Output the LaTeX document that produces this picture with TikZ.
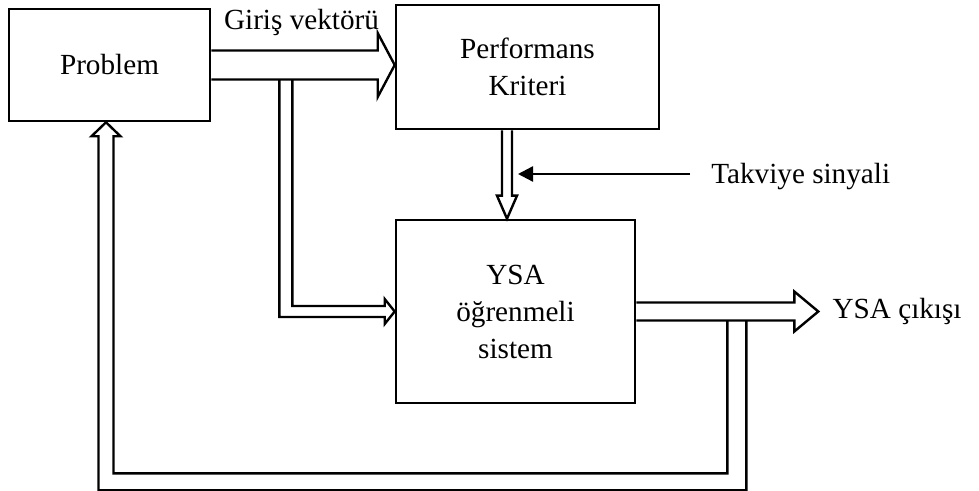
\documentclass[tikz,border=0pt]{standalone}
\usepackage{fontspec}
\setmainfont{Liberation Serif}
\usepackage{tikz}
\usetikzlibrary{arrows.meta,calc}
\tikzset{every picture/.style={line width=1.3pt}}

\begin{document}
\begin{tikzpicture}[x=.5pt,y=-.5pt,
  every node/.style={font=\fontsize{14.6}{18.5}\selectfont},
  block/.style={draw=black,line width=1.3pt,align=center,inner sep=0pt},
  hollow/.style={draw=black,line width=1.2pt,line join=miter},
  signal/.style={draw=black,line width=1.2pt,-{Triangle[length=7.5pt,width=7.5pt]}}]
  \useasboundingbox (0,0) rectangle (979,491);

  % Blocks of the learning loop.
  \node[block,minimum width=100.5pt,minimum height=56pt] (prob) at (109.5,65)
    {Problem};
  \node[block,minimum width=131.5pt,minimum height=62pt] (perf) at (527.5,67)
    {Performans\\Kriteri};
  \node[block,minimum width=119.5pt,minimum height=91.5pt] (ysa) at (515.5,311.5)
    {YSA\\öğrenmeli\\sistem};

  % Labels.
  \node (giris) at (301.5,22) {Giriş vektörü};
  \node[anchor=west,inner sep=0pt] (takviye) at (710,177) {Takviye sinyali};
  \node[anchor=west,inner xsep=6.5pt,inner ysep=0pt] (cikis)
    at ($(ysa.east)+(182,0)$) {YSA çıkışı};

  % Input vector into the performance criterion.
  \coordinate (gtip) at (perf.west |- prob.east);
  \draw[hollow] ($(prob.east)+(0,-14.5)$) -- ($(gtip)+(-17,-14.5)$)
    -- ($(gtip)+(-17,-32)$) -- (gtip) -- ($(gtip)+(-17,32)$)
    -- ($(gtip)+(-17,14.5)$) -- ($(prob.east)+(0,14.5)$);

  % Branch of the input vector into the network.
  \coordinate (ba) at ($(prob.east)+(81,14.5)$);
  \coordinate (bb) at ($(prob.east)+(68,14.5)$);
  \draw[hollow] (ba) |- ($(ysa.west)+(-10,-5.5)$) -- ++(0,-7) -- (ysa.west)
    -- ($(ysa.west)+(-10,12.5)$) -- ++(0,-7) -| (bb);

  % Criterion down to the network.
  \coordinate (ktop) at ($(perf.south)+(-20.5,0)$);
  \coordinate (kbot) at (ktop |- ysa.north);
  \draw[hollow] ($(ktop)+(-5,0)$) -- ($(kbot)+(-5,-23)$) -- ($(kbot)+(-10,-23)$)
    -- (kbot) -- ($(kbot)+(10,-23)$) -- ($(kbot)+(5,-23)$) -- ($(ktop)+(5,0)$);

  % Reinforcement signal.
  \coordinate (kin) at ($(ktop)+(11,0)$);
  \coordinate (tstart) at ($(takviye.west)+(-20,-3)$);
  \draw[signal] (tstart) -- (kin |- tstart);

  % Network output.
  \draw[hollow] ($(ysa.east)+(0,-9)$) -- ($(cikis.west)+(-24,-9)$)
    -- ($(cikis.west)+(-24,-20)$) -- (cikis.west) -- ($(cikis.west)+(-24,20)$)
    -- ($(cikis.west)+(-24,9)$) -- ($(ysa.east)+(0,9)$);

  % Feedback of the output back to the problem.
  \coordinate (ftip) at ($(prob.south)+(-3.5,0)$);
  \coordinate (fa) at ($(ysa.east)+(91,9)$);
  \coordinate (fb) at ($(ysa.east)+(110,9)$);
  \coordinate (fl) at ($(ysa.south)+(0,69)$);
  \coordinate (fo) at ($(ysa.south)+(0,86)$);
  \coordinate (fr) at ($(ftip)+(7.5,14)$);
  \coordinate (fs) at ($(ftip)+(-7.5,14)$);
  \draw[hollow] (fa) |- (fr |- fl) -- (fr) -- ++(7,0) -- (ftip)
    -- ($(fs)+(-7,0)$) -- (fs) -- (fs |- fo) -| (fb);
\end{tikzpicture}
\end{document}
